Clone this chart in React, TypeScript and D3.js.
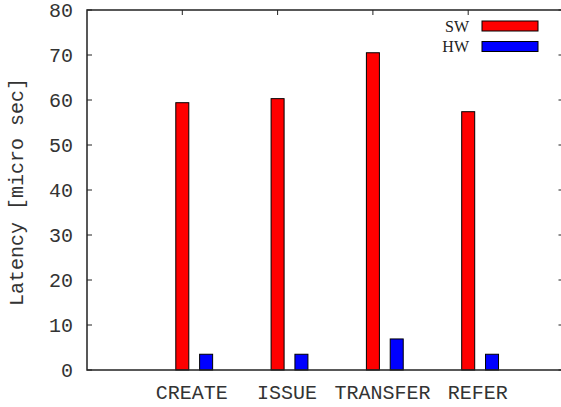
import React from "react";
import * as d3 from "d3";

// Operation latency, software vs hardware
const categories = ["CREATE", "ISSUE", "TRANSFER", "REFER"];
const swValues = [59.4, 60.3, 70.5, 57.4];
const hwValues = [3.5, 3.5, 6.9, 3.5];
const yTicks = [0, 10, 20, 30, 40, 50, 60, 70, 80];
const seriesNames = ["SW", "HW"];
const seriesColors = ["#ff0000", "#0000ff"];

const W = 561;
const H = 407;
const left = 87;
const right = 563.5;
const top = 10;
const bottom = 370;

const mono = "'Courier New', 'Liberation Mono', monospace";
const serif = "'Times New Roman', 'Liberation Serif', serif";

export default function App() {
  const x = d3.scaleLinear().domain([-1, 4]).range([left, right]);
  const y = d3.scaleLinear().domain([0, 80]).range([bottom, top]);
  const barW = 13;
  const offsets = [0, 0.25];
  const series = [swValues, hwValues];

  return (
    <svg
      width={W}
      height={H}
      style={{ position: "absolute", left: 0, top: 0, background: "#fff" }}
    >
      {/* bars */}
      {series.map((vals, s) =>
        vals.map((v, i) => {
          const cx = x(i + offsets[s]);
          return (
            <rect
              key={`${s}-${i}`}
              x={cx - barW / 2}
              y={y(v)}
              width={barW}
              height={y(0) - y(v)}
              fill={seriesColors[s]}
              stroke="#000"
              strokeWidth={1}
            />
          );
        })
      )}

      {/* frame */}
      <rect
        x={left}
        y={top}
        width={right - left}
        height={bottom - top}
        fill="none"
        stroke="#222"
        strokeWidth={1.5}
      />

      {/* y ticks */}
      {yTicks.map((t) => (
        <g key={t}>
          <line x1={left} x2={left + 5} y1={y(t)} y2={y(t)} stroke="#222" />
          <line x1={right - 5} x2={right} y1={y(t)} y2={y(t)} stroke="#222" />
          <text
            x={73}
            y={y(t)}
            dy="0.35em"
            textAnchor="end"
            fontFamily={mono}
            fontSize={20}
            fill="#333"
          >
            {t}
          </text>
        </g>
      ))}

      {/* category ticks and labels */}
      {categories.map((c, i) => (
        <g key={c}>
          <line x1={x(i)} x2={x(i)} y1={top} y2={top + 5} stroke="#222" />
          <text
            x={x(i + 0.1)}
            y={399}
            textAnchor="middle"
            fontFamily={mono}
            fontSize={20}
            fill="#333"
          >
            {c}
          </text>
        </g>
      ))}

      {/* y axis title */}
      <text
        transform={`translate(17,${(top + bottom) / 2 + 2}) rotate(-90)`}
        textAnchor="middle"
        dominantBaseline="central"
        fontFamily={mono}
        fontSize={20}
        fill="#333"
      >
        Latency [micro sec]
      </text>

      {/* legend */}
      {seriesNames.map((n, s) => {
        const cy = 26 + s * 20.5;
        return (
          <g key={n}>
            <text
              x={469}
              y={cy + 5.5}
              textAnchor="end"
              fontFamily={serif}
              fontSize={16}
              fill="#222"
            >
              {n}
            </text>
            <rect
              x={482}
              y={cy - 5}
              width={56}
              height={10}
              fill={seriesColors[s]}
              stroke="#000"
              strokeWidth={1}
            />
          </g>
        );
      })}
    </svg>
  );
}
